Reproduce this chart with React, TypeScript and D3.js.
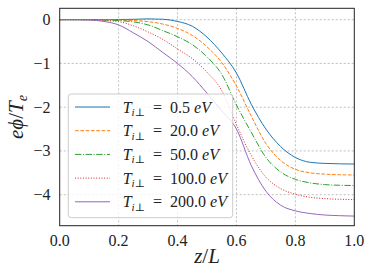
import React from "react";
import * as d3 from "d3";

const zGrid = [0, 0.05, 0.1, 0.15, 0.2, 0.25, 0.3, 0.35, 0.4, 0.45, 0.5, 0.55, 0.6, 0.65, 0.7, 0.75, 0.8, 0.85, 0.9, 0.95, 1.0];
const series05 = [0, 0, 0, 0, 0.003, 0.008, 0.018, 0.01, -0.04, -0.15, -0.4, -0.76, -1.22, -1.93, -2.5, -2.9, -3.15, -3.26, -3.285, -3.295, -3.3];
const series20 = [0, 0, 0, -0.002, -0.008, -0.02, -0.045, -0.1, -0.2, -0.36, -0.62, -0.98, -1.52, -2.2, -2.83, -3.22, -3.42, -3.5, -3.53, -3.545, -3.55];
const series50 = [0, 0, -0.002, -0.008, -0.02, -0.05, -0.12, -0.25, -0.39, -0.57, -0.85, -1.25, -1.95, -2.57, -3.15, -3.48, -3.65, -3.73, -3.77, -3.785, -3.79];
const series100 = [0, 0, -0.005, -0.02, -0.045, -0.14, -0.28, -0.45, -0.67, -0.89, -1.2, -1.62, -2.4, -3.1, -3.6, -3.86, -3.99, -4.06, -4.09, -4.105, -4.11];
const series200 = [0, 0, -0.005, -0.04, -0.12, -0.3, -0.5, -0.75, -1.0, -1.3, -1.68, -2.08, -2.5, -3.33, -3.92, -4.24, -4.37, -4.43, -4.465, -4.48, -4.49];

const legendValues = ["0.5", "20.0", "50.0", "100.0", "200.0"];
const xTicks = [0, 0.2, 0.4, 0.6, 0.8, 1.0];
const yTicks = [0, -1, -2, -3, -4];

const colors = ["#1f77b4", "#ff7f0e", "#2ca02c", "#d62728", "#9467bd"];
const dashes = ["", "3.7,1.6", "6.4,1.6,1,1.6", "1,1.65", ""];

const W = 374, H = 280;
const L = 59.7, R = 354.3, T = 8.3, B = 225.7;
const FONT = "'Liberation Serif', 'DejaVu Serif', serif";

export default function App() {
  const x = d3.scaleLinear().domain([0, 1]).range([L, R]);
  const y = d3.scaleLinear().domain([-4.709, 0.26]).range([B, T]);
  const allSeries = [series05, series20, series50, series100, series200];
  const line = d3
    .line<number>()
    .x((_, i) => x(zGrid[i]))
    .y((d) => y(d))
    .curve(d3.curveMonotoneX);

  const lx = 68.3, ly = 94, lw = 164.4, lh = 123.7;
  const rowY = (i: number) => 107 + 23.7 * i;

  return (
    <svg width={W} height={H} style={{ position: "absolute", left: 0, top: 0, background: "#fff" }}>
      <rect x={0} y={0} width={W} height={H} fill="#fff" />
      {xTicks.slice(1, -1).map((t) => (
        <line key={"gx" + t} x1={x(t)} x2={x(t)} y1={T} y2={B} stroke="#b0b0b0" strokeWidth={0.8} strokeDasharray="2,2" />
      ))}
      {yTicks.map((t) => (
        <line key={"gy" + t} x1={L} x2={R} y1={y(t)} y2={y(t)} stroke="#b0b0b0" strokeWidth={0.8} strokeDasharray="2,2" />
      ))}
      <defs>
        <clipPath id="clip">
          <rect x={L} y={T} width={R - L} height={B - T} />
        </clipPath>
      </defs>
      <g clipPath="url(#clip)">
        {allSeries.map((s, i) => (
          <path key={i} d={line(s) || ""} fill="none" stroke={colors[i]} strokeWidth={1} strokeDasharray={dashes[i]} />
        ))}
      </g>
      <rect x={L} y={T} width={R - L} height={B - T} fill="none" stroke="#222" strokeWidth={1} />
      {xTicks.map((t) => (
        <text key={"xt" + t} fontFamily={FONT} x={x(t)} y={245.5} fontSize={16} textAnchor="middle" fill="#222">
          {t.toFixed(1)}
        </text>
      ))}
      {yTicks.map((t) => (
        <text key={"yt" + t} fontFamily={FONT} x={50.5} y={y(t) + 5.5} fontSize={16} textAnchor="end" fill="#222">
          {t === 0 ? "0" : "\u2212" + Math.abs(t)}
        </text>
      ))}
      <text fontFamily={FONT} x={(L + R) / 2} y={263} fontSize={21} textAnchor="middle" fill="#222">
        <tspan fontStyle="italic">z</tspan>
        <tspan>/</tspan>
        <tspan fontStyle="italic">L</tspan>
      </text>
      <text fontFamily={FONT} transform={`translate(23,${(T + B) / 2}) rotate(-90)`} fontSize={21} textAnchor="middle" fill="#222">
        <tspan fontStyle="italic">eϕ</tspan>
        <tspan>/</tspan>
        <tspan fontStyle="italic">T</tspan>
        <tspan fontStyle="italic" fontSize={14} dy={4}>e</tspan>
      </text>
      <rect x={lx} y={ly} width={lw} height={lh} rx={3} fill="#fff" fillOpacity={0.8} stroke="#cccccc" strokeWidth={1} />
      {legendValues.map((v, i) => (
        <g key={"lg" + i}>
          <line x1={75} x2={110} y1={rowY(i)} y2={rowY(i)} stroke={colors[i]} strokeWidth={1} strokeDasharray={dashes[i]} />
          <text fontFamily={FONT} x={122.7} y={rowY(i) + 5.5} fontSize={16} fill="#222">
            <tspan fontStyle="italic">T</tspan>
            <tspan fontSize={11} dy={3.5} fontStyle="italic">i</tspan>
            <tspan fontSize={11}>⊥</tspan>
            <tspan dy={-3.5}>{"\u2002=\u2002" + v + " "}</tspan>
            <tspan fontStyle="italic">eV</tspan>
          </text>
        </g>
      ))}
    </svg>
  );
}
